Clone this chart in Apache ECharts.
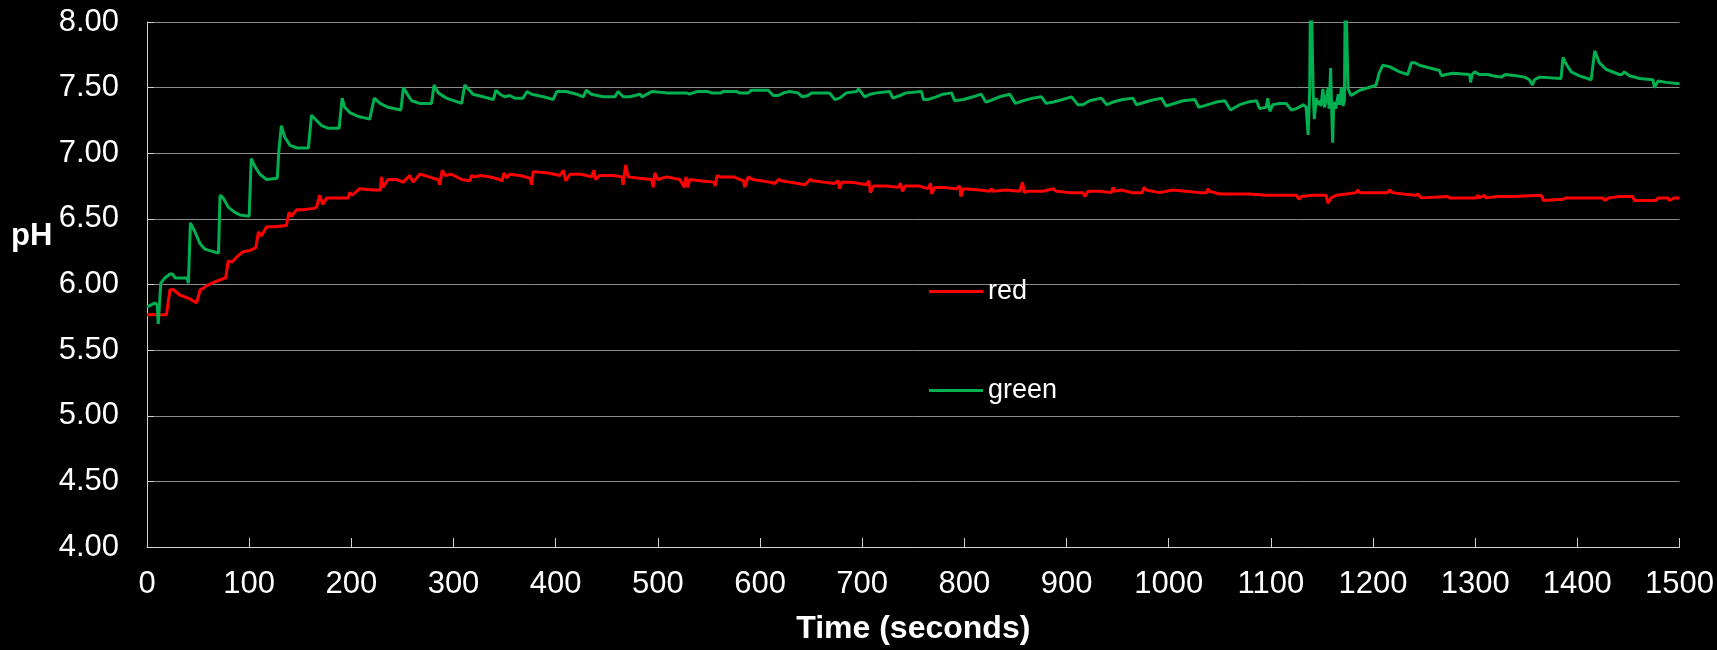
<!DOCTYPE html>
<html>
<head>
<meta charset="utf-8">
<title>pH over time</title>
<script src="https://cdn.jsdelivr.net/npm/echarts@6/dist/echarts.min.js"></script>
<style>
  html, body { margin: 0; padding: 0; background: #000; }
  #chart { width: 1717px; height: 650px; }
</style>
</head>
<body>
<div id="chart"></div>
<script>
// Time stamps (s) and pH readings for the red probe
const redTime = [
  0, 19, 22.5, 26, 32, 42, 48.5, 52, 55, 58, 66.5, 73, 77, 79.5, 83, 88, 94, 101, 106.5, 109,
  112, 117, 124, 136.5, 139, 141.5, 146.5, 153, 163, 166, 169, 172, 176, 189, 197, 198.5, 201, 208, 221.5, 228.5,
  229.5, 231, 236, 244, 251, 257, 260.5, 267, 272, 280, 285, 286.5, 289, 292, 298, 308, 316, 317.7, 321, 326,
  336, 345, 347.5, 349.5, 352, 355, 365, 375, 376.5, 378, 393, 404, 407.5, 410, 414, 425, 435, 437.5, 439, 443,
  456, 465, 466, 468.5, 471, 482, 494, 495.5, 497, 500, 508.5, 521.5, 526, 527.5, 529.5, 531, 541, 555, 556, 558,
  561, 574, 584, 585, 588.5, 593, 609.5, 614.5, 618, 621, 629, 644, 649, 652, 662, 673, 676.5, 678, 680, 689.5,
  704, 706.5, 708, 711, 724, 735, 737.5, 739.5, 742, 756, 764.5, 767, 768, 771, 779, 792, 795.5, 796.5, 799, 815,
  825, 826.5, 828, 841, 854, 857, 858.5, 861, 877, 887, 890, 903, 916, 918, 921, 932.5, 944, 945.5, 947, 954,
  963.5, 974, 976, 978, 991, 1004, 1017, 1030, 1037.5, 1038.5, 1040, 1050, 1063, 1064.5, 1066, 1079, 1095.5, 1108.5, 1125, 1127.5,
  1130, 1141, 1154, 1156, 1159, 1164, 1174, 1183.5, 1185, 1187, 1191, 1203, 1214.5, 1216, 1219, 1229, 1242, 1244, 1247, 1273,
  1275, 1301, 1302.5, 1304, 1309, 1310.5, 1322, 1337, 1338.5, 1364.5, 1367, 1386, 1389, 1402, 1425, 1426.5, 1431, 1441, 1454, 1456,
  1477, 1479, 1488.5, 1490, 1495, 1500
];
const redPH = [
  5.77, 5.77, 5.96, 5.96, 5.92, 5.89, 5.86, 5.96, 5.97, 5.99, 6.02, 6.04, 6.05, 6.18, 6.17, 6.21, 6.25, 6.26, 6.28, 6.40,
  6.37, 6.44, 6.44, 6.45, 6.55, 6.52, 6.57, 6.57, 6.58, 6.59, 6.68, 6.61, 6.66, 6.66, 6.66, 6.70, 6.68, 6.73, 6.72, 6.72,
  6.82, 6.74, 6.80, 6.80, 6.78, 6.83, 6.78, 6.84, 6.83, 6.81, 6.80, 6.76, 6.87, 6.83, 6.84, 6.80, 6.79, 6.83, 6.82, 6.83,
  6.82, 6.80, 6.79, 6.85, 6.81, 6.84, 6.83, 6.81, 6.76, 6.86, 6.85, 6.83, 6.87, 6.79, 6.84, 6.84, 6.82, 6.87, 6.80, 6.83,
  6.83, 6.82, 6.76, 6.91, 6.82, 6.81, 6.80, 6.74, 6.85, 6.80, 6.82, 6.80, 6.74, 6.82, 6.74, 6.80, 6.79, 6.78, 6.75, 6.83,
  6.82, 6.82, 6.79, 6.74, 6.82, 6.80, 6.78, 6.77, 6.80, 6.79, 6.78, 6.76, 6.80, 6.79, 6.78, 6.77, 6.79, 6.73, 6.78, 6.78,
  6.76, 6.79, 6.70, 6.75, 6.75, 6.74, 6.77, 6.71, 6.75, 6.75, 6.73, 6.77, 6.69, 6.74, 6.74, 6.73, 6.75, 6.67, 6.73, 6.72,
  6.71, 6.73, 6.71, 6.72, 6.71, 6.78, 6.70, 6.71, 6.71, 6.73, 6.71, 6.70, 6.70, 6.67, 6.71, 6.71, 6.70, 6.74, 6.71, 6.72,
  6.70, 6.70, 6.74, 6.72, 6.70, 6.72, 6.71, 6.70, 6.70, 6.73, 6.71, 6.69, 6.69, 6.68, 6.69, 6.69, 6.68, 6.68, 6.68, 6.65,
  6.67, 6.68, 6.68, 6.62, 6.66, 6.68, 6.69, 6.70, 6.72, 6.70, 6.70, 6.70, 6.70, 6.72, 6.70, 6.69, 6.68, 6.69, 6.66, 6.67,
  6.66, 6.66, 6.68, 6.66, 6.68, 6.66, 6.67, 6.67, 6.66, 6.68, 6.64, 6.65, 6.66, 6.66, 6.66, 6.64, 6.66, 6.67, 6.67, 6.64,
  6.64, 6.66, 6.66, 6.64, 6.66, 6.66
];

// Time stamps (s) and pH readings for the green probe
const greenTime = [
  0, 8, 10, 11, 13.5, 17.5, 22.5, 25, 27.5, 39, 40.5, 42.5, 47, 52, 56.5, 65, 70, 71.5, 74.5, 79.5,
  86, 91, 100, 102, 105.5, 110.5, 117, 127.5, 129, 131.5, 135, 140, 147, 158, 161, 166, 171, 177.5, 188, 191,
  193.5, 198.5, 207, 218, 222.5, 228, 236, 248.5, 251, 254, 259, 267, 278.5, 281, 285, 293, 308, 311, 314.5, 319,
  329, 339, 341.5, 345.5, 350, 355, 360, 368, 372, 376.5, 388, 397.5, 401, 410.5, 420.5, 427, 430, 435, 446.5, 458,
  461, 466, 472.5, 482.5, 484.5, 494, 508.5, 528, 531, 538, 549, 552.5, 562, 564, 577, 580, 588.5, 591.5, 608, 613,
  618, 623, 629, 637, 641.5, 647, 650.5, 668, 673, 678, 684.5, 694.5, 696.5, 702.5, 708, 714, 727, 730, 737, 743,
  758, 760, 764.5, 772.5, 779, 787.5, 790.5, 799, 808.5, 816.5, 821, 825, 834.5, 844.5, 850, 857.5, 867, 875.5, 880, 887,
  896.5, 905, 911, 916, 922.5, 934, 939.5, 945.5, 955, 965, 968.5, 981.5, 993, 997.5, 1014, 1025.5, 1029.5, 1046.5, 1055, 1060.5,
  1069.5, 1077.5, 1086, 1089, 1095.5, 1097, 1099, 1102, 1108.5, 1115, 1120, 1125, 1132, 1134.5, 1136.5, 1138, 1139, 1140.5, 1141.5, 1142.5,
  1144.5, 1146, 1147.5, 1149, 1151, 1152.5, 1154, 1156, 1157, 1158.5, 1159.5, 1160.5, 1161.5, 1163.5, 1166, 1167.5, 1169, 1170.5, 1172, 1173,
  1174.5, 1175.5, 1178.5, 1187, 1200, 1203, 1206, 1209.5, 1216, 1226, 1234, 1237.5, 1241, 1245.5, 1255.5, 1265, 1267, 1271.5, 1278, 1294.5,
  1295.5, 1297, 1299.5, 1304, 1312.5, 1317, 1325.5, 1329.5, 1340, 1348.5, 1353, 1356, 1358, 1363, 1384, 1386, 1389, 1394, 1402, 1413.5,
  1417, 1421.5, 1428, 1441, 1443.5, 1446, 1451, 1461, 1474, 1475.5, 1479, 1487, 1500
];
const greenPH = [
  5.83, 5.86, 5.84, 5.70, 6.01, 6.05, 6.08, 6.08, 6.05, 6.05, 6.01, 6.47, 6.40, 6.31, 6.27, 6.25, 6.24, 6.68, 6.66, 6.59,
  6.55, 6.53, 6.52, 6.96, 6.90, 6.84, 6.80, 6.81, 7.01, 7.21, 7.12, 7.06, 7.04, 7.04, 7.29, 7.25, 7.21, 7.19, 7.19, 7.42,
  7.35, 7.31, 7.28, 7.26, 7.42, 7.38, 7.35, 7.33, 7.50, 7.46, 7.40, 7.38, 7.38, 7.52, 7.46, 7.42, 7.38, 7.52, 7.49, 7.45,
  7.43, 7.41, 7.48, 7.45, 7.43, 7.44, 7.42, 7.42, 7.47, 7.45, 7.43, 7.41, 7.47, 7.47, 7.45, 7.43, 7.48, 7.45, 7.43, 7.43,
  7.47, 7.43, 7.43, 7.45, 7.43, 7.47, 7.46, 7.46, 7.45, 7.47, 7.47, 7.46, 7.46, 7.47, 7.47, 7.46, 7.46, 7.48, 7.48, 7.44,
  7.44, 7.46, 7.47, 7.46, 7.43, 7.44, 7.46, 7.46, 7.41, 7.42, 7.46, 7.47, 7.49, 7.43, 7.45, 7.46, 7.47, 7.42, 7.44, 7.46,
  7.47, 7.41, 7.41, 7.43, 7.45, 7.46, 7.40, 7.41, 7.43, 7.45, 7.39, 7.40, 7.43, 7.45, 7.38, 7.40, 7.42, 7.43, 7.38, 7.39,
  7.41, 7.43, 7.37, 7.37, 7.40, 7.42, 7.37, 7.39, 7.41, 7.42, 7.37, 7.40, 7.42, 7.36, 7.40, 7.41, 7.35, 7.39, 7.40, 7.33,
  7.37, 7.39, 7.40, 7.34, 7.35, 7.42, 7.32, 7.37, 7.38, 7.38, 7.33, 7.34, 7.37, 7.35, 7.14, 7.48, 8.40, 8.40, 7.45, 7.26,
  7.42, 7.37, 7.40, 7.36, 7.49, 7.35, 7.40, 7.50, 7.34, 7.65, 7.34, 7.08, 7.39, 7.34, 7.45, 7.37, 7.50, 7.36, 7.40, 8.40,
  8.40, 7.49, 7.44, 7.48, 7.51, 7.52, 7.61, 7.67, 7.66, 7.62, 7.60, 7.69, 7.69, 7.67, 7.65, 7.63, 7.59, 7.60, 7.61, 7.60,
  7.54, 7.60, 7.62, 7.60, 7.60, 7.59, 7.58, 7.60, 7.59, 7.58, 7.56, 7.52, 7.56, 7.58, 7.57, 7.73, 7.68, 7.62, 7.59, 7.56,
  7.78, 7.69, 7.64, 7.60, 7.60, 7.62, 7.59, 7.57, 7.56, 7.50, 7.55, 7.54, 7.53
];

// Axis ticks
const xTicks = { min: 0, max: 1500, step: 100 };
const yTicks = { min: 4, max: 8, step: 0.5 };

const zip = (t, v) => t.map((x, i) => [x, v[i]]);

const FONT = "'Liberation Sans', Arial, sans-serif";
const chart = echarts.init(document.getElementById('chart'), null, { renderer: 'canvas' });

chart.setOption({
  backgroundColor: '#000000',
  animation: false,
  textStyle: { fontFamily: FONT },
  grid: { left: 147, right: 37, top: 22, bottom: 100, containLabel: false },
  legend: {
    orient: 'vertical',
    left: 924,
    top: 273,
    itemGap: 72,
    itemWidth: 54,
    itemHeight: 3,
    icon: 'rect',
    textStyle: { color: '#ffffff', fontSize: 27, fontFamily: FONT },
    data: ['red', 'green']
  },
  graphic: [{
    type: 'text',
    left: 11,
    top: 221,
    style: { text: 'pH', fill: '#ffffff', font: "bold 31px 'Liberation Sans', Arial, sans-serif" }
  }],
  xAxis: {
    type: 'value',
    min: xTicks.min,
    max: xTicks.max,
    interval: xTicks.step,
    name: 'Time (seconds)',
    nameLocation: 'middle',
    nameGap: 66,
    nameTextStyle: { color: '#ffffff', fontSize: 32, fontWeight: 'bold', fontFamily: FONT },
    axisLine: { show: true, lineStyle: { color: '#d0d0d0', width: 1 } },
    axisTick: { show: true, inside: true, length: 9, lineStyle: { color: '#d0d0d0', width: 1 } },
    axisLabel: {
      color: '#ffffff', fontSize: 31, margin: 22, fontFamily: FONT,
      formatter: v => String(v)
    },
    splitLine: { show: false }
  },
  yAxis: {
    type: 'value',
    min: yTicks.min,
    max: yTicks.max,
    interval: yTicks.step,
    axisLine: { show: true, lineStyle: { color: '#d0d0d0', width: 1 } },
    axisTick: { show: true, inside: true, length: 7, lineStyle: { color: '#d0d0d0', width: 1 } },
    axisLabel: {
      color: '#ffffff', fontSize: 31, margin: 28, fontFamily: FONT,
      formatter: v => v.toFixed(2)
    },
    splitLine: { show: true, lineStyle: { color: '#8c8c8c', width: 1 } }
  },
  series: [
    {
      name: 'red',
      type: 'line',
      data: zip(redTime, redPH),
      symbol: 'none',
      clip: true,
      lineStyle: { color: '#ff0000', width: 3 },
      itemStyle: { color: '#ff0000' }
    },
    {
      name: 'green',
      type: 'line',
      data: zip(greenTime, greenPH),
      symbol: 'none',
      clip: true,
      lineStyle: { color: '#00b050', width: 3 },
      itemStyle: { color: '#00b050' }
    }
  ]
});
</script>
</body>
</html>
